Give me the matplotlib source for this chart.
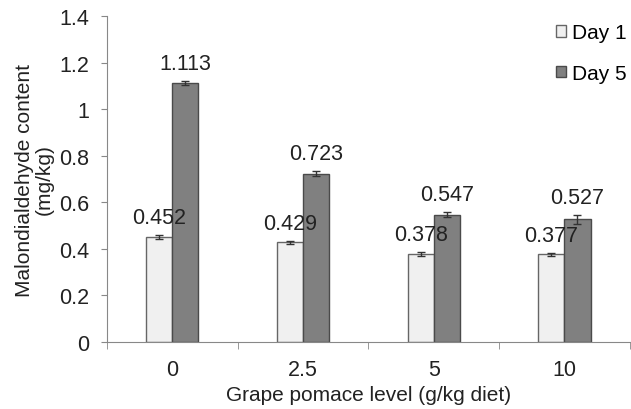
import numpy as np
import matplotlib.pyplot as plt

plt.rcParams['font.family'] = ['Liberation Sans', 'DejaVu Sans']

# ─── DATA ─────────────────────────────────────────────────────────────────────
levels   = ["0", "2.5", "5", "10"]
day1     = [0.452, 0.429, 0.378, 0.377]
day5     = [1.113, 0.723, 0.547, 0.527]
day1_err = [0.008, 0.006, 0.007, 0.007]
day5_err = [0.010, 0.012, 0.012, 0.020]
yticks   = [0, 0.2, 0.4, 0.6, 0.8, 1.0, 1.2, 1.4]
ytick_labels = ["0", "0.2", "0.4", "0.6", "0.8", "1", "1.2", "1.4"]

# ─── PLOT ─────────────────────────────────────────────────────────────────────
fig = plt.figure(figsize=(6.31, 4.10), dpi=100)
ax = fig.add_axes([0.1696, 0.1634, 0.8284, 0.7951])

x = np.arange(len(levels))
w = 0.2
axis_col = "#888888"
txt_col = "#222222"
err_kw = dict(ecolor="#333333", elinewidth=1, capsize=3, capthick=1)

ax.bar(x - w / 2, day1, w, yerr=day1_err, color="#f0f0f0",
       edgecolor="#666666", linewidth=1, label="Day 1", error_kw=err_kw)
ax.bar(x + w / 2, day5, w, yerr=day5_err, color="#808080",
       edgecolor="#4a4a4a", linewidth=1, label="Day 5", error_kw=err_kw)

for xi, v, e in zip(x - w / 2, day1, day1_err):
    ax.annotate(f"{v:.3f}", (xi, v + e), xytext=(0, 5), textcoords="offset points",
                ha="center", va="bottom", fontsize=15.5, color=txt_col)
for xi, v, e in zip(x + w / 2, day5, day5_err):
    ax.annotate(f"{v:.3f}", (xi, v + e), xytext=(0, 5), textcoords="offset points",
                ha="center", va="bottom", fontsize=15.5, color=txt_col)

ax.set_xlim(-0.5, len(levels) - 0.5)
ax.set_ylim(0, 1.4)
ax.set_yticks(yticks)
ax.set_yticklabels(ytick_labels)
ax.set_xticks(x)
ax.set_xticklabels(levels)
ax.set_xticks(np.arange(len(levels) + 1) - 0.5, minor=True)
ax.tick_params(axis="x", which="major", length=0, pad=12, labelsize=15.5, colors=txt_col)
ax.tick_params(axis="x", which="minor", length=5, color=axis_col, direction="out")
ax.tick_params(axis="y", length=4, color=axis_col, labelsize=15.5, labelcolor=txt_col, pad=9)

for side in ["top", "right"]:
    ax.spines[side].set_visible(False)
for side in ["left", "bottom"]:
    ax.spines[side].set_color(axis_col)

ax.set_ylabel("Malondialdehyde content\n(mg/kg)", fontsize=15, color=txt_col,
              labelpad=4, linespacing=1.0)
ax.set_xlabel("Grape pomace level (g/kg diet)", fontsize=15, color=txt_col, labelpad=4)

ax.legend(loc="upper right", bbox_to_anchor=(1.03, 1.035), frameon=False, fontsize=15,
          handlelength=0.45, handleheight=0.45, handletextpad=0.3, labelspacing=1.05)

plt.savefig("out.png", dpi=100)
plt.close()
